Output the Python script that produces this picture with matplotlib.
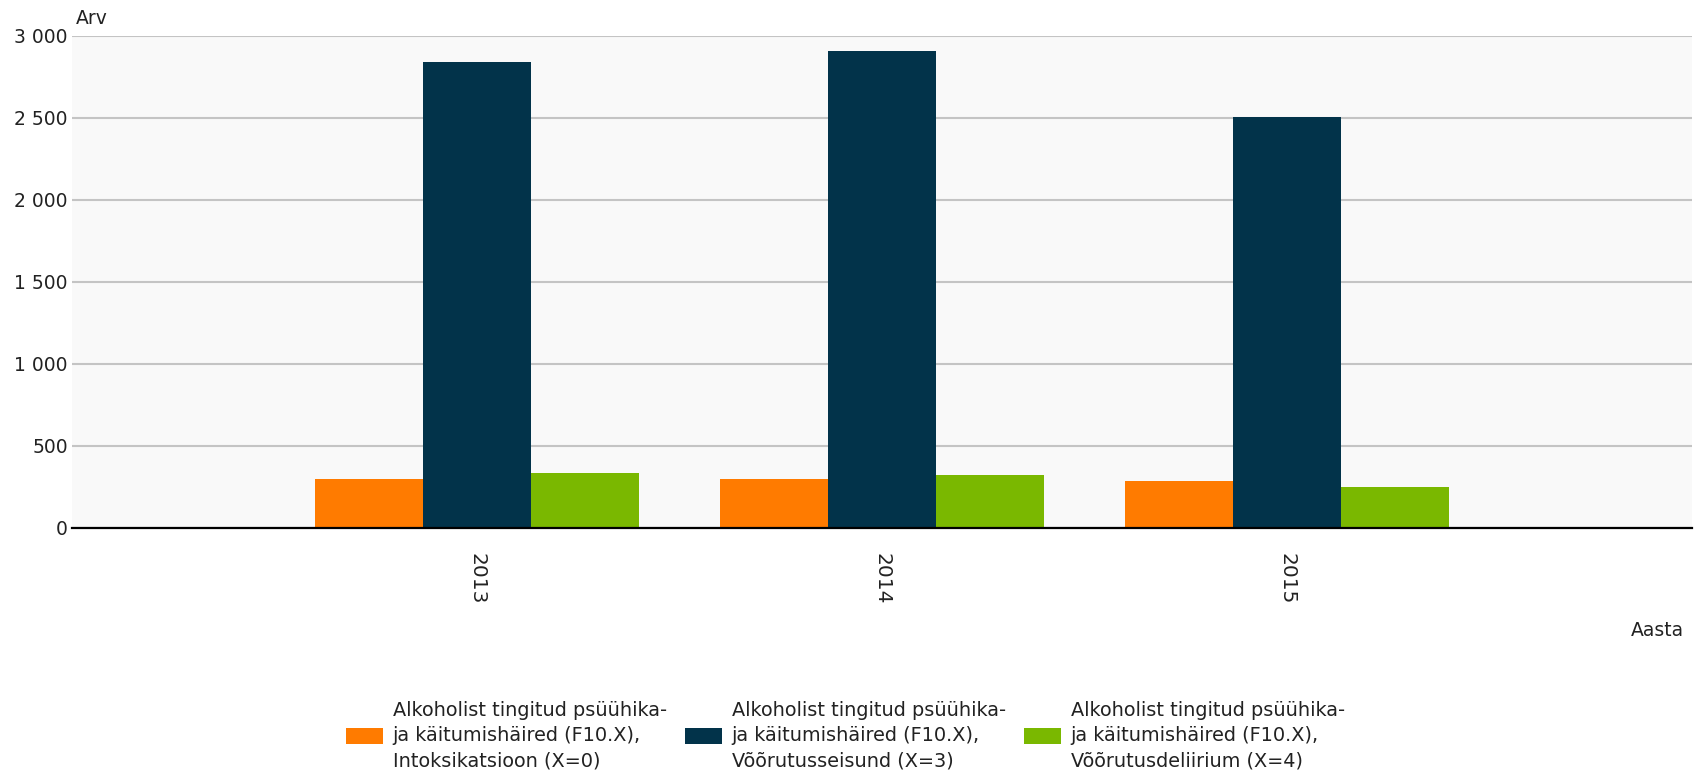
#! /usr/bin/env python3

import matplotlib
matplotlib.use('Agg')
import matplotlib.pyplot as plt
import numpy as np

# Data: alcohol-related mental and behavioural disorders per year
years = ['2013', '2014', '2015']
intoxication = [295, 295, 285]          # F10.0
withdrawal = [2838, 2908, 2506]         # F10.3
delirium = [332, 320, 250]              # F10.4

seriesNames = ['Alkoholist tingitud psüühika-\nja käitumishäired (F10.X),\nIntoksikatsioon (X=0)',
               'Alkoholist tingitud psüühika-\nja käitumishäired (F10.X),\nVõõrutusseisund (X=3)',
               'Alkoholist tingitud psüühika-\nja käitumishäired (F10.X),\nVõõrutusdeliirium (X=4)']
colors = ['#ff7b00', '#02334a', '#7ab800']

fontsize = 13.5
plt.rcParams['font.family'] = 'DejaVu Sans'
plt.rcParams['font.size'] = fontsize

# Plot figure with fix size
fig = plt.figure(figsize=(16.96, 7.71), dpi=100)
ax = fig.add_axes([0.0425, 0.3156, 0.9551, 0.6381])
ax.set_facecolor('#f9f9f9')

# Grouped bars
x = np.arange(1, len(years) + 1)
width = 0.8 / 3
for i, values in enumerate([intoxication, withdrawal, delirium]):
    ax.bar(x + (i - 1) * width, values, width, color=colors[i],
           label=seriesNames[i], zorder=3, linewidth=0)

# Axis limits and ticks
ax.set_xlim(0, 4)
ax.set_ylim(0, 3000)
ax.set_yticks(range(0, 3001, 500))
ax.set_yticklabels(['{:,}'.format(v).replace(',', ' ') for v in range(0, 3001, 500)])
ax.set_xticks(x)
ax.set_xticklabels(years, rotation=270, fontsize=14.5)
ax.tick_params(axis='y', length=0, pad=3, labelcolor='#222222')
ax.tick_params(axis='x', length=0, pad=18, labelcolor='#222222')

# Grid
ax.yaxis.grid(True, color='#c4c4c4', linewidth=1.5, zorder=0)
ax.set_axisbelow(True)

# Borders: only the baseline
for side in ['top', 'right', 'left']:
    ax.spines[side].set_visible(False)
ax.spines['bottom'].set_color('black')
ax.spines['bottom'].set_linewidth(1.6)
ax.spines['bottom'].set_zorder(4)

# Axis names
fig.text(76 / 1696, 1 - 19 / 771, 'Arv', ha='left', va='center', color='#222222')
fig.text(1684 / 1696, 1 - 630 / 771, 'Aasta', ha='right', va='center', color='#222222')

# Legend
legsize = 13.9
fpx = legsize * 100 / 72
leg = fig.legend(loc='center', bbox_to_anchor=(0.4985, 0.046), ncol=3, frameon=False,
                 handlelength=37 / fpx, handleheight=17 / fpx, handletextpad=9.5 / fpx,
                 columnspacing=18.5 / fpx, borderpad=0, fontsize=legsize)
for t in leg.get_texts():
    t.set_linespacing(1.4)
    t.set_color('#222222')

# Save figure
plt.savefig('out.png', dpi=100)
